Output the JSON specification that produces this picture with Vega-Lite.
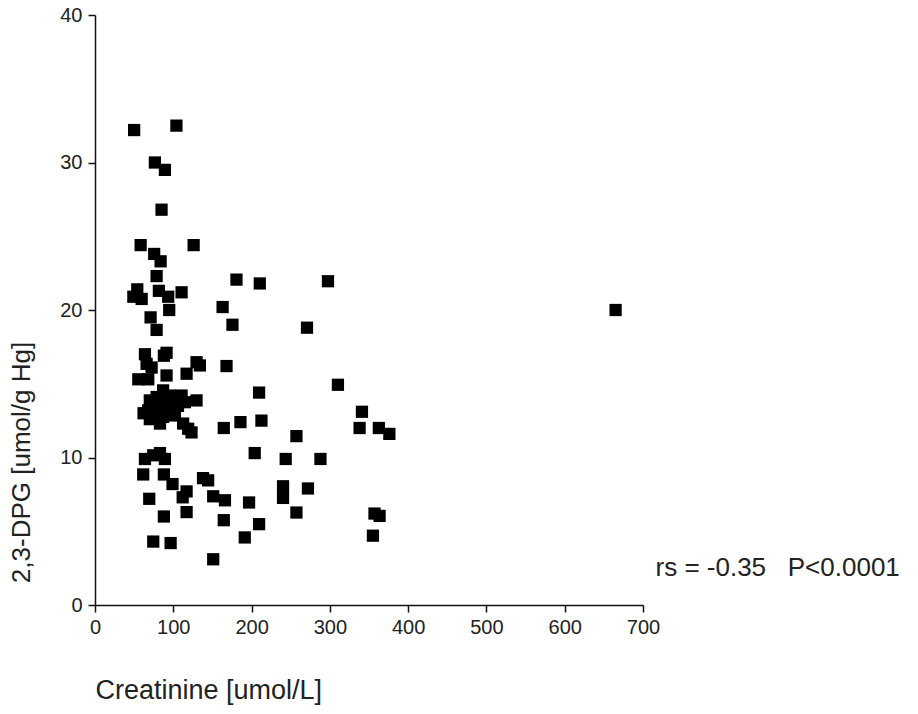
{
  "$schema": "https://vega.github.io/schema/vega-lite/v6.json",
  "width": 548,
  "height": 590,
  "autosize": {"type": "none"},
  "padding": {"left": 95, "top": 15, "right": 275, "bottom": 109},
  "background": "white",
  "config": {
    "view": {"stroke": null},
    "font": "Liberation Sans",
    "axis": {
      "grid": false,
      "domainColor": "#111",
      "domainWidth": 1.5,
      "tickColor": "#111",
      "tickWidth": 1.5,
      "tickSize": 7,
      "labelFlush": false,
      "labelFont": "Liberation Sans",
      "labelFontSize": 20,
      "labelColor": "#222",
      "titleFont": "Liberation Sans",
      "titleFontSize": 26,
      "titleFontWeight": "normal",
      "titleColor": "#222"
    }
  },
  "datasets": {
    "pts": [
      {"creat": 50, "dpg": 32.2}, {"creat": 104, "dpg": 32.5}, {"creat": 76.5, "dpg": 30.0}, {"creat": 89.3, "dpg": 29.5},
      {"creat": 85, "dpg": 26.8}, {"creat": 58.3, "dpg": 24.4}, {"creat": 126, "dpg": 24.4}, {"creat": 75.6, "dpg": 23.8},
      {"creat": 83.8, "dpg": 23.3}, {"creat": 78.7, "dpg": 22.3}, {"creat": 54, "dpg": 21.4}, {"creat": 49, "dpg": 20.9},
      {"creat": 59.6, "dpg": 20.75}, {"creat": 81.6, "dpg": 21.3}, {"creat": 93.5, "dpg": 20.9}, {"creat": 110.6, "dpg": 21.2},
      {"creat": 94.8, "dpg": 20.0}, {"creat": 163, "dpg": 20.2}, {"creat": 71, "dpg": 19.5}, {"creat": 78.7, "dpg": 18.65},
      {"creat": 180.7, "dpg": 22.06}, {"creat": 210.5, "dpg": 21.8}, {"creat": 297.6, "dpg": 21.95}, {"creat": 175.6, "dpg": 19.0},
      {"creat": 270.8, "dpg": 18.8}, {"creat": 665, "dpg": 20.0}, {"creat": 63.8, "dpg": 17.0}, {"creat": 91.4, "dpg": 17.1},
      {"creat": 88, "dpg": 16.9}, {"creat": 65.9, "dpg": 16.35}, {"creat": 72.3, "dpg": 16.1}, {"creat": 129.7, "dpg": 16.46},
      {"creat": 134, "dpg": 16.24}, {"creat": 168, "dpg": 16.2}, {"creat": 55.3, "dpg": 15.3}, {"creat": 68, "dpg": 15.3},
      {"creat": 91.4, "dpg": 15.56}, {"creat": 117, "dpg": 15.68}, {"creat": 87, "dpg": 14.55}, {"creat": 70, "dpg": 13.87},
      {"creat": 78.7, "dpg": 14.1}, {"creat": 95.7, "dpg": 14.2}, {"creat": 110.6, "dpg": 14.2}, {"creat": 129.7, "dpg": 13.87},
      {"creat": 68, "dpg": 13.2}, {"creat": 78.7, "dpg": 13.3}, {"creat": 95.7, "dpg": 13.4}, {"creat": 106, "dpg": 13.5},
      {"creat": 114.8, "dpg": 13.75}, {"creat": 70, "dpg": 12.6}, {"creat": 87, "dpg": 12.75}, {"creat": 102, "dpg": 12.85},
      {"creat": 83, "dpg": 12.3}, {"creat": 112.6, "dpg": 12.3}, {"creat": 119, "dpg": 11.95}, {"creat": 123.3, "dpg": 11.7},
      {"creat": 62, "dpg": 13.0}, {"creat": 90, "dpg": 13.0}, {"creat": 75, "dpg": 12.9}, {"creat": 100, "dpg": 13.9},
      {"creat": 85, "dpg": 13.8},
      {"creat": 310.3, "dpg": 14.93}, {"creat": 209.6, "dpg": 14.4}, {"creat": 341, "dpg": 13.1}, {"creat": 338, "dpg": 12.0},
      {"creat": 362.6, "dpg": 12.0}, {"creat": 376, "dpg": 11.6}, {"creat": 212.6, "dpg": 12.5}, {"creat": 185.8, "dpg": 12.4},
      {"creat": 164.5, "dpg": 12.0}, {"creat": 257.3, "dpg": 11.45}, {"creat": 204, "dpg": 10.3}, {"creat": 243.6, "dpg": 9.9},
      {"creat": 288, "dpg": 9.9}, {"creat": 63.8, "dpg": 9.9}, {"creat": 74.4, "dpg": 10.15}, {"creat": 83, "dpg": 10.3},
      {"creat": 89.3, "dpg": 9.9}, {"creat": 61.6, "dpg": 8.85}, {"creat": 88, "dpg": 8.85}, {"creat": 99, "dpg": 8.2},
      {"creat": 138, "dpg": 8.6}, {"creat": 144.5, "dpg": 8.45}, {"creat": 240.2, "dpg": 8.05}, {"creat": 272, "dpg": 7.9},
      {"creat": 117, "dpg": 7.7}, {"creat": 112, "dpg": 7.3}, {"creat": 69.3, "dpg": 7.2}, {"creat": 151, "dpg": 7.37},
      {"creat": 166, "dpg": 7.1}, {"creat": 196.8, "dpg": 6.95}, {"creat": 240.2, "dpg": 7.26}, {"creat": 88, "dpg": 6.0},
      {"creat": 117, "dpg": 6.3}, {"creat": 164.5, "dpg": 5.75}, {"creat": 209.6, "dpg": 5.48}, {"creat": 257.3, "dpg": 6.27},
      {"creat": 357, "dpg": 6.2}, {"creat": 363.5, "dpg": 6.04}, {"creat": 74.4, "dpg": 4.3}, {"creat": 96.6, "dpg": 4.2},
      {"creat": 191.3, "dpg": 4.58}, {"creat": 355, "dpg": 4.7}, {"creat": 151, "dpg": 3.1}
    ],
    "note": [{"creat": 716, "dpg": 1.96, "label": "rs = -0.35\u00a0\u00a0\u00a0P<0.0001"}]
  },
  "layer": [
    {
      "data": {"name": "pts"},
      "mark": {"type": "point", "shape": "square", "filled": true, "size": 150, "color": "#000", "opacity": 1},
      "encoding": {
        "x": {
          "field": "creat", "type": "quantitative",
          "scale": {"domain": [0, 700], "nice": false, "zero": true},
          "axis": {
            "values": [0, 100, 200, 300, 400, 500, 600, 700],
            "title": "Creatinine [umol/L]",
            "labelPadding": 5,
            "titleFontSize": 27,
            "titleX": 0, "titleAlign": "left", "titleY": 85, "titleBaseline": "middle"
          }
        },
        "y": {
          "field": "dpg", "type": "quantitative",
          "scale": {"domain": [0, 40], "nice": false},
          "axis": {
            "values": [0, 10, 20, 30, 40],
            "title": "2,3-DPG [umol/g Hg]",
            "labelPadding": 6,
            "titleX": -74, "titleY": 447, "titleAngle": -90, "titleAlign": "center", "titleBaseline": "middle"
          }
        }
      }
    },
    {
      "data": {"name": "note"},
      "mark": {"type": "text", "align": "left", "baseline": "alphabetic", "fontSize": 26, "font": "Liberation Sans", "color": "#222", "clip": false},
      "encoding": {
        "x": {"field": "creat", "type": "quantitative"},
        "y": {"field": "dpg", "type": "quantitative"},
        "text": {"field": "label"}
      }
    }
  ]
}
